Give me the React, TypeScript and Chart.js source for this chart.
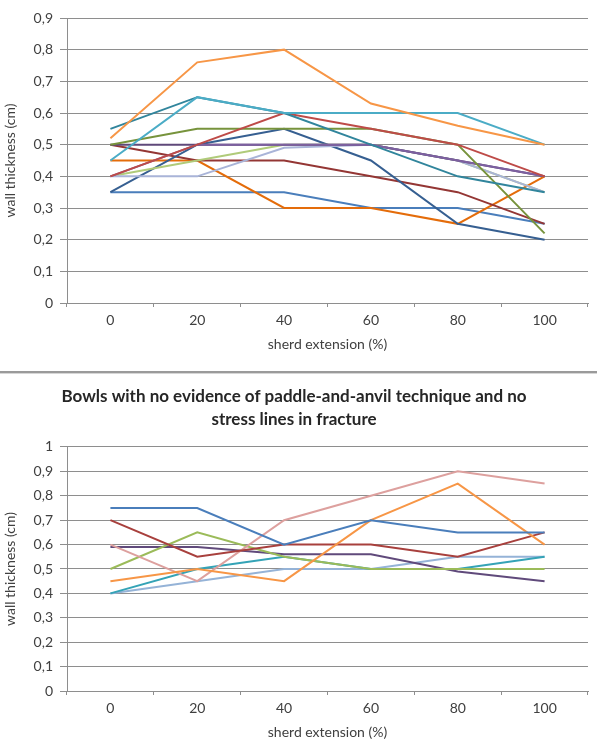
import React, { useEffect, useRef } from 'react';
import { Chart, registerables } from 'chart.js';

Chart.register(...registerables);

// ---------- data ----------
const categories = ['0', '20', '40', '60', '80', '100'];

// Top chart (no title)
const topBlue = [0.35, 0.35, 0.35, 0.3, 0.3, 0.25];
const topRed = [0.4, 0.5, 0.6, 0.55, 0.5, 0.4];
const topOlive = [0.5, 0.55, 0.55, 0.55, 0.5, 0.22];
const topPurple = [0.4, 0.5, 0.5, 0.5, 0.45, 0.4];
const topAqua = [0.45, 0.65, 0.6, 0.6, 0.6, 0.5];
const topOrange = [0.52, 0.76, 0.8, 0.63, 0.56, 0.5];
const topDarkBlue = [0.35, 0.5, 0.55, 0.45, 0.25, 0.2];
const topDarkRed = [0.5, 0.45, 0.45, 0.4, 0.35, 0.25];
const topDarkPurple = [0.5, 0.5, 0.5, 0.5, 0.45, 0.4];
const topDarkTeal = [0.55, 0.65, 0.6, 0.5, 0.4, 0.35];
const topDarkOrange = [0.45, 0.45, 0.3, 0.3, 0.25, 0.4];
const topLightGreen = [0.4, 0.45, 0.5, 0.5, 0.45, 0.35];
const topLavender = [0.4, 0.4, 0.49, 0.5, 0.45, 0.35];

const topSeries = [
  topOrange, topAqua, topDarkTeal, topRed, topOlive, topPurple, topDarkPurple,
  topLavender, topLightGreen, topDarkBlue, topDarkRed, topDarkOrange, topBlue,
];
const topColors = [
  '#F79646', '#4BACC6', '#31859C', '#BE4B48', '#77933C', '#7D60A0', '#5F497A',
  '#A9B4D8', '#B0CB7A', '#365F91', '#943634', '#E46C0A', '#4A7EBB',
];

// Bottom chart
const bottomTitle = ['Bowls with no evidence of paddle-and-anvil technique and no', 'stress lines in fracture'];
const botBlue = [0.75, 0.75, 0.6, 0.7, 0.65, 0.65];
const botRed = [0.7, 0.55, 0.6, 0.6, 0.55, 0.65];
const botGreen = [0.5, 0.65, 0.55, 0.5, 0.5, 0.5];
const botPurple = [0.59, 0.59, 0.56, 0.56, 0.49, 0.45];
const botTeal = [0.4, 0.5, 0.55, 0.5, 0.5, 0.55];
const botOrange = [0.45, 0.5, 0.45, 0.7, 0.85, 0.6];
const botPink = [0.6, 0.45, 0.7, 0.8, 0.9, 0.85];
const botLightBlue = [0.4, 0.45, 0.5, 0.5, 0.55, 0.55];

const bottomSeries = [botBlue, botOrange, botRed, botPink, botGreen, botPurple, botTeal, botLightBlue];
const bottomColors = ['#4A7EBB', '#F79646', '#A8403D', '#DDA09E', '#9BBB59', '#604A7B', '#34A3B6', '#95B3D7'];

const xTitle = 'sherd extension (%)';
const yTitle = 'wall thickness (cm)';

// ---------- rendering ----------
const FONT = 'Lato, "Noto Sans", "DejaVu Sans", sans-serif';
const GRID = '#8E8E8E';
const TEXT = '#404040';

const fmt = (v: any) => {
  const n = Number(v);
  if (Math.abs(n) < 1e-9) return '0';
  if (Math.abs(n - Math.round(n)) < 1e-9) return String(Math.round(n));
  return n.toFixed(1).replace('.', ',');
};

function LineChart(props: { series: number[][]; colors: string[]; yMax: number; title?: string[]; height: number }) {
  const ref = useRef<HTMLCanvasElement>(null);
  useEffect(() => {
    const { series, colors, yMax, title } = props;
    const chart = new Chart(ref.current as HTMLCanvasElement, {
      type: 'line',
      data: {
        labels: categories,
        datasets: series.map((s, i) => ({
          data: s,
          borderColor: colors[i],
          backgroundColor: colors[i],
          borderWidth: 2,
          pointRadius: 0,
          pointHoverRadius: 0,
          tension: 0,
          fill: false,
        })),
      },
      options: {
        animation: false,
        responsive: false,
        events: [],
        layout: { padding: { top: title ? 0 : 18, right: 9, left: 0, bottom: 0 } },
        plugins: {
          legend: { display: false },
          tooltip: { enabled: false },
          title: title
            ? {
                display: true,
                text: title,
                font: { family: FONT, size: 17, weight: 'bold', lineHeight: 1.37 },
                color: '#262626',
                padding: { top: 10, bottom: 15.4 },
              }
            : { display: false },
        },
        scales: {
          x: {
            offset: true,
            grid: { offset: true, drawOnChartArea: false, drawTicks: true, tickLength: 4, color: GRID },
            border: { display: true, color: GRID, width: 1 },
            ticks: { padding: 5, font: { family: FONT, size: 14 }, color: TEXT, maxRotation: 0, autoSkip: false },
            title: {
              display: true,
              text: xTitle,
              font: { family: FONT, size: 14, lineHeight: 1 },
              color: TEXT,
              padding: { top: 0, bottom: 0 },
            },
            afterFit: (s: any) => {
              s.height = 48;
            },
          },
          y: {
            min: 0,
            max: yMax,
            ticks: { stepSize: 0.1, callback: fmt, padding: 7, font: { family: FONT, size: 14 }, color: TEXT },
            grid: { color: GRID, tickLength: 7, lineWidth: 1 },
            border: { display: true, color: GRID, width: 1 },
            title: {
              display: true,
              text: yTitle,
              font: { family: FONT, size: 14, lineHeight: 1 },
              color: TEXT,
              padding: { top: 3, bottom: 0 },
            },
            afterFit: (s: any) => {
              s.width = 67;
            },
          },
        },
      } as any,
    });
    return () => chart.destroy();
  }, []);
  return (
    <canvas
      ref={ref}
      width={597}
      height={props.height}
      style={{ display: 'block', width: 597, height: props.height }}
    />
  );
}

export default function App() {
  return (
    <div
      style={{
        position: 'absolute',
        left: 0,
        top: 0,
        width: 597,
        height: 739,
        overflow: 'hidden',
        background: '#ffffff',
      }}
    >
      <div style={{ position: 'absolute', left: 0, top: 0 }}>
        <LineChart series={topSeries} colors={topColors} yMax={0.9} height={351} />
      </div>
      <div style={{ position: 'absolute', left: 0, top: 371, width: 597, height: 2, background: '#9A9A9A' }} />
      <div style={{ position: 'absolute', left: 0, top: 373, width: 597, height: 1, background: '#D6D6D6' }} />
      <div style={{ position: 'absolute', left: 0, top: 375 }}>
        <LineChart series={bottomSeries} colors={bottomColors} yMax={1} title={bottomTitle} height={364} />
      </div>
    </div>
  );
}
